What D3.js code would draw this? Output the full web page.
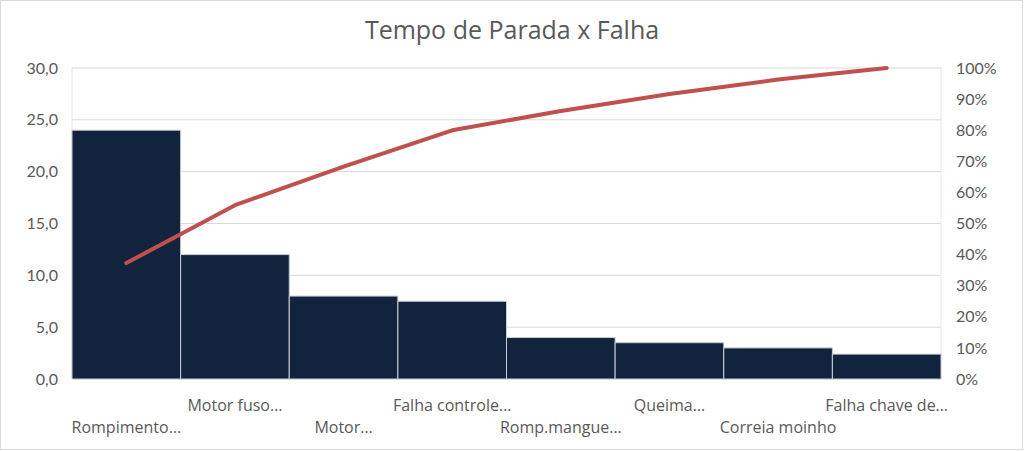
<!DOCTYPE html>
<html><head><meta charset="utf-8">
<script src="https://cdn.jsdelivr.net/npm/d3@7"></script>
<style>body{margin:0;background:#fff}svg{display:block}</style>
</head><body>
<script>
const categories = ["Rompimento…","Motor fuso…","Motor…","Falha controle…","Romp.mangue…","Queima…","Correia moinho","Falha chave de…"];
const values = [24, 12, 8, 7.5, 4, 3.5, 3, 2.4];
const leftTicks = [0,5,10,15,20,25,30];
const rightTicks = [0,0.1,0.2,0.3,0.4,0.5,0.6,0.7,0.8,0.9,1.0];
const title = "Tempo de Parada x Falha";

const W=1024,H=451;
const m={l:72,r:83,t:68,b:72};
const font="Lato, 'Open Sans', sans-serif";
const font2="'Open Sans', sans-serif";
const svg=d3.select("body").append("svg").attr("width",W).attr("height",H);
svg.append("rect").attr("x",0.5).attr("y",0.5).attr("width",W-2).attr("height",H-2).attr("fill","#fff").attr("stroke","#d9d9d9");

const x=d3.scaleBand().domain(categories).range([m.l,W-m.r]).padding(0);
const y=d3.scaleLinear().domain([0,30]).range([H-m.b,m.t]);
const y2=d3.scaleLinear().domain([0,1]).range([H-m.b,m.t]);
const total=d3.sum(values);
let acc=0;const cum=values.map(v=>(acc+=v)/total);

svg.append("g").selectAll("line").data(leftTicks).join("line")
 .attr("x1",m.l).attr("x2",W-m.r).attr("y1",d=>y(d)).attr("y2",d=>y(d))
 .attr("stroke","#d9d9d9").attr("stroke-width",1);
svg.append("line").attr("x1",m.l).attr("x2",m.l).attr("y1",m.t).attr("y2",H-m.b).attr("stroke","#e6e6e6");
svg.append("line").attr("x1",W-m.r).attr("x2",W-m.r).attr("y1",m.t).attr("y2",H-m.b).attr("stroke","#e6e6e6");

svg.append("g").selectAll("rect").data(values).join("rect")
 .attr("x",(d,i)=>x(categories[i])).attr("width",x.bandwidth())
 .attr("y",d=>y(d)).attr("height",d=>y(0)-y(d))
 .attr("fill","#12233d").attr("stroke","#c9ced6").attr("stroke-width",1);

svg.append("path").datum(cum)
 .attr("d",d3.line().x((d,i)=>x(categories[i])+x.bandwidth()/2).y(d=>y2(d)))
 .attr("fill","none").attr("stroke","#c0504d").attr("stroke-width",4)
 .attr("stroke-linecap","round").attr("stroke-linejoin","round");

const fmt=d=>d3.format(".1f")(d).replace(".",",");
const ga=svg.append("g").attr("transform",`translate(${m.l},0)`)
 .call(d3.axisLeft(y).tickValues(leftTicks).tickFormat(fmt).tickSize(0).tickPadding(14));
ga.select(".domain").remove();
ga.selectAll("text").attr("font-family",font).attr("font-size",16).attr("fill","#595959");
const gb=svg.append("g").attr("transform",`translate(${W-m.r},0)`)
 .call(d3.axisRight(y2).tickValues(rightTicks).tickFormat(d3.format(".0%")).tickSize(0).tickPadding(15));
gb.select(".domain").remove();
gb.selectAll("text").attr("font-family",font).attr("font-size",16).attr("fill","#595959");

svg.append("g").selectAll("text").data(categories).join("text")
 .attr("x",d=>x(d)+x.bandwidth()/2)
 .attr("y",(d,i)=>i%2===1?411:433)
 .attr("text-anchor","middle").attr("font-family",font2).attr("font-size",16).attr("fill","#595959")
 .text(d=>d);

svg.append("text").attr("x",512).attr("y",39).attr("text-anchor","middle")
 .attr("font-family",font2).attr("font-size",25).attr("fill","#595959").text(title);
</script>
</body></html>
